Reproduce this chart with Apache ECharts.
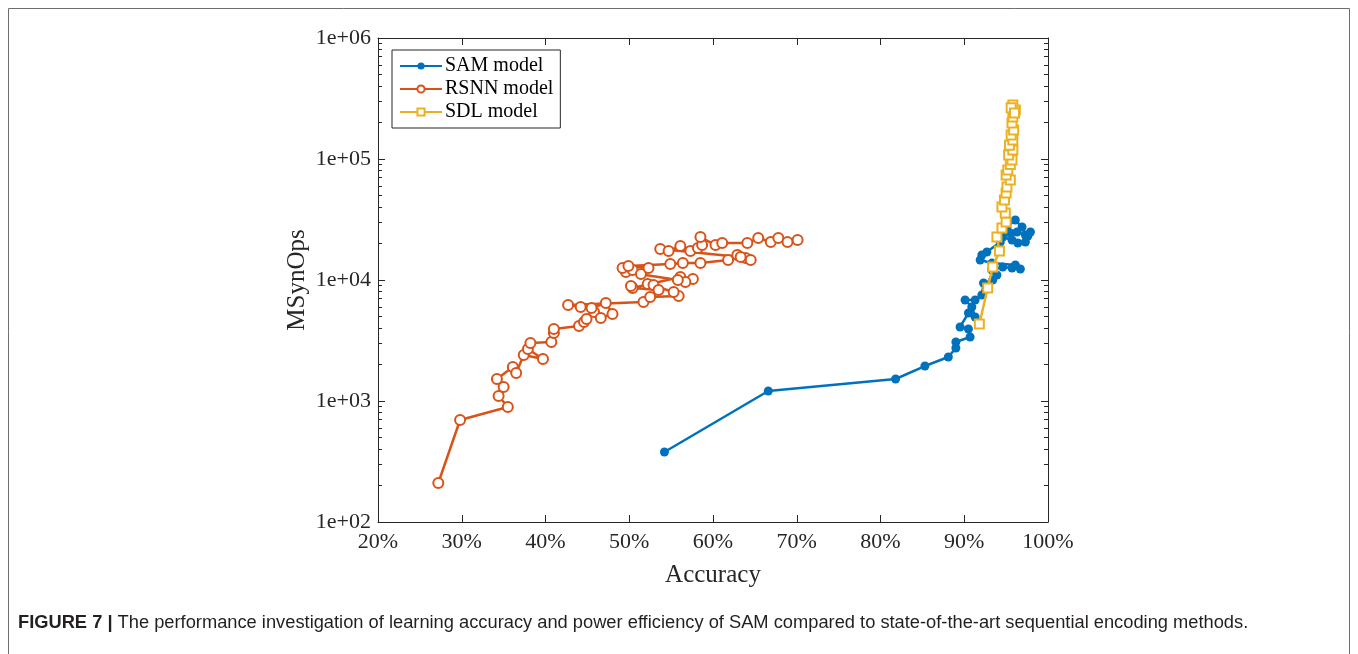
<!DOCTYPE html>
<html>
<head>
<meta charset="utf-8">
<script src="https://cdn.jsdelivr.net/npm/echarts@6/dist/echarts.min.js"></script>
<style>
  html, body { margin: 0; padding: 0; background: #fff; }
  #chart { width: 1358px; height: 654px; }
</style>
</head>
<body>
<div id="chart"></div>
<script>
// Accuracy (%) vs. synaptic operations (MSynOps) for three sequential encoders
const samAccuracy = [54.2, 66.6, 81.8, 85.3, 88.1, 89.0, 89.0, 90.7, 90.5, 89.5, 90.5, 91.3, 90.9, 90.1, 91.3, 92.1, 92.3, 92.8, 93.4, 93.9, 93.3, 94.6, 95.7, 96.7, 96.1, 93.3, 91.9, 92.1, 92.7, 94.3, 94.6, 95.7, 96.4, 97.3, 97.6, 96.3, 95.5, 95.1, 96.1, 96.9, 97.3, 97.9];
const samOps      = [379, 1210, 1520, 1945, 2310, 2740, 3075, 3380, 3935, 4090, 5335, 4945, 5985, 6840, 6840, 7520, 9440, 9100, 10000, 11000, 12100, 12800, 12560, 12330, 13300, 13800, 14620, 16100, 17030, 20600, 22650, 21400, 20200, 20600, 23100, 24950, 24450, 27400, 31300, 27400, 23550, 24950];

const rsnnAccuracy = [27.2, 29.8, 35.5, 34.4, 35.0, 34.2, 36.1, 36.5, 37.4, 39.7, 37.9, 38.2, 40.7, 41.0, 41.0, 44.0, 44.6, 44.9, 45.8, 46.6, 48.0, 47.2, 45.5, 44.2, 42.7, 51.7, 52.5, 55.9, 55.3, 52.2, 52.9, 53.5, 50.4, 50.2, 56.1, 57.6, 56.7, 55.8, 49.6, 49.2, 50.4, 51.4, 52.3, 49.9, 54.9, 56.4, 58.5, 61.8, 62.9, 63.9, 64.5, 63.3, 53.7, 54.7, 56.1, 57.3, 58.2, 58.7, 58.5, 60.3, 61.1, 64.1, 65.4, 66.9, 67.8, 68.9, 70.1];
const rsnnOps      = [210, 697, 892, 1100, 1305, 1520, 1910, 1703, 2400, 2223, 2690, 3015, 3075, 3650, 3935, 4170, 4500, 4765, 5445, 4850, 5235, 6455, 5870, 5985, 6210, 6580, 7240, 7380, 7960, 9270, 9100, 8260, 8590, 8920, 10590, 10190, 9620, 10000, 11650, 12560, 12100, 11210, 12560, 13050, 13550, 13800, 13800, 14620, 16100, 15200, 14620, 15480, 18030, 17380, 19100, 17380, 18370, 19450, 22650, 19450, 20200, 20200, 22230, 20600, 22230, 20600, 21400];

const sdlAccuracy = [91.8, 92.8, 93.4, 94.2, 93.9, 94.5, 95.0, 94.9, 94.5, 94.8, 95.0, 95.1, 95.5, 95.0, 95.2, 95.5, 95.7, 95.3, 95.8, 95.4, 95.8, 95.6, 95.9, 95.7, 95.8, 96.1, 95.8, 95.6, 96.0];
const sdlOps      = [4325, 8590, 12800, 17380, 22650, 26900, 30150, 35800, 40100, 45800, 52400, 58700, 67000, 73800, 81100, 90000, 98200, 108000, 118700, 130000, 143600, 158000, 173700, 198500, 222300, 254000, 279500, 265000, 240000];

const xTicks = [20, 30, 40, 50, 60, 70, 80, 90, 100];
const yMajorTicks = [1e2, 1e3, 1e4, 1e5, 1e6];
const yMinorTicks = [];
for (let d = 100; d < 1e6; d *= 10) {
  for (let k = 2; k <= 9; k++) yMinorTicks.push(k * d);
}

const pair = (xs, ys) => xs.map((x, i) => [x, ys[i]]);

const serif = 'Liberation Serif, Times New Roman, serif';
const axisColor = '#262626';

function yAxisDef(position, ticks, len, showLine, showLabel) {
  return {
    type: 'log',
    logBase: 10,
    position: position,
    min: 100,
    max: 1e6,
    axisLine: { show: showLine, lineStyle: { color: axisColor, width: 1 } },
    axisTick: { show: true, inside: true, length: len, customValues: ticks, lineStyle: { color: axisColor, width: 1 } },
    axisLabel: {
      show: showLabel,
      customValues: yMajorTicks,
      formatter: v => '1e+' + String(Math.round(Math.log10(v))).padStart(2, '0'),
      fontFamily: serif, fontSize: 22, color: '#262626', margin: 7
    },
    splitLine: { show: false },
    minorTick: { show: false }
  };
}

const chart = echarts.init(document.getElementById('chart'));
chart.setOption({
  backgroundColor: '#fff',
  animation: false,
  grid: { left: 378, right: 310, top: 38, bottom: 132, containLabel: false },
  xAxis: [
    {
      type: 'value', position: 'bottom', min: 20, max: 100, interval: 10,
      axisLine: { show: true, lineStyle: { color: axisColor, width: 1 } },
      axisTick: { inside: true, length: 7, customValues: xTicks, lineStyle: { color: axisColor } },
      axisLabel: { formatter: v => v + '%', fontFamily: serif, fontSize: 22, color: '#262626', margin: 9 },
      splitLine: { show: false },
      name: 'Accuracy', nameLocation: 'middle', nameGap: 41,
      nameTextStyle: { fontFamily: serif, fontSize: 25, color: '#262626' }
    },
    {
      type: 'value', position: 'top', min: 20, max: 100, interval: 10,
      axisLine: { show: true, lineStyle: { color: axisColor, width: 1 } },
      axisTick: { inside: true, length: 7, customValues: xTicks, lineStyle: { color: axisColor } },
      axisLabel: { show: false },
      splitLine: { show: false }
    }
  ],
  yAxis: [
    Object.assign(yAxisDef('left', yMajorTicks, 7, true, true), {
      name: 'MSynOps', nameLocation: 'middle', nameGap: 68, nameRotate: 90,
      nameTextStyle: { fontFamily: serif, fontSize: 25, color: '#262626' }
    }),
    yAxisDef('left', yMinorTicks, 4, false, false),
    yAxisDef('right', yMajorTicks, 7, true, false),
    yAxisDef('right', yMinorTicks, 4, false, false)
  ],
  legend: {
    orient: 'vertical',
    left: 392, top: 50,
    backgroundColor: '#fff',
    borderColor: '#262626', borderWidth: 1,
    padding: [5, 7, 5, 7],
    itemGap: 1,
    itemWidth: 42, itemHeight: 9,
    textStyle: { fontFamily: serif, fontSize: 20, color: '#000', lineHeight: 22, padding: [0, 0, 0, -2] },
    data: ['SAM model', 'RSNN model', 'SDL model']
  },
  series: [
    {
      name: 'SAM model', type: 'line', xAxisIndex: 0, yAxisIndex: 0,
      data: pair(samAccuracy, samOps),
      symbol: 'circle', symbolSize: 9,
      lineStyle: { color: '#0072BD', width: 2.5 },
      itemStyle: { color: '#0072BD' },
      z: 2
    },
    {
      name: 'RSNN model', type: 'line', xAxisIndex: 0, yAxisIndex: 0,
      data: pair(rsnnAccuracy, rsnnOps),
      symbol: 'emptyCircle', symbolSize: 10,
      lineStyle: { color: '#D95319', width: 2.5 },
      itemStyle: { color: '#D95319', borderColor: '#D95319', borderWidth: 2.5 },
      z: 3
    },
    {
      name: 'SDL model', type: 'line', xAxisIndex: 0, yAxisIndex: 0,
      data: pair(sdlAccuracy, sdlOps),
      symbol: 'emptyRect', symbolSize: 9,
      lineStyle: { color: '#EDB120', width: 2.5 },
      itemStyle: { color: '#EDB120', borderColor: '#EDB120', borderWidth: 1.8 },
      z: 4
    }
  ],
  graphic: [
    {
      type: 'rect', silent: true, z: -1,
      shape: { x: 8.5, y: 8.5, width: 1341, height: 700 },
      style: { fill: null, stroke: '#6e6e6e', lineWidth: 1 }
    },
    {
      type: 'text', left: 18, top: 614, silent: true,
      style: {
        text: '{b|FIGURE 7 |} The performance investigation of learning accuracy and power efficiency of SAM compared to state-of-the-art sequential encoding methods.',
        fontFamily: 'Liberation Sans, Arial, sans-serif', fontSize: 18.3, fill: '#231f20',
        rich: { b: { fontWeight: 'bold', fontFamily: 'Liberation Sans, Arial, sans-serif', fontSize: 18.3, fill: '#231f20' } }
      }
    }
  ]
});
</script>
</body>
</html>
